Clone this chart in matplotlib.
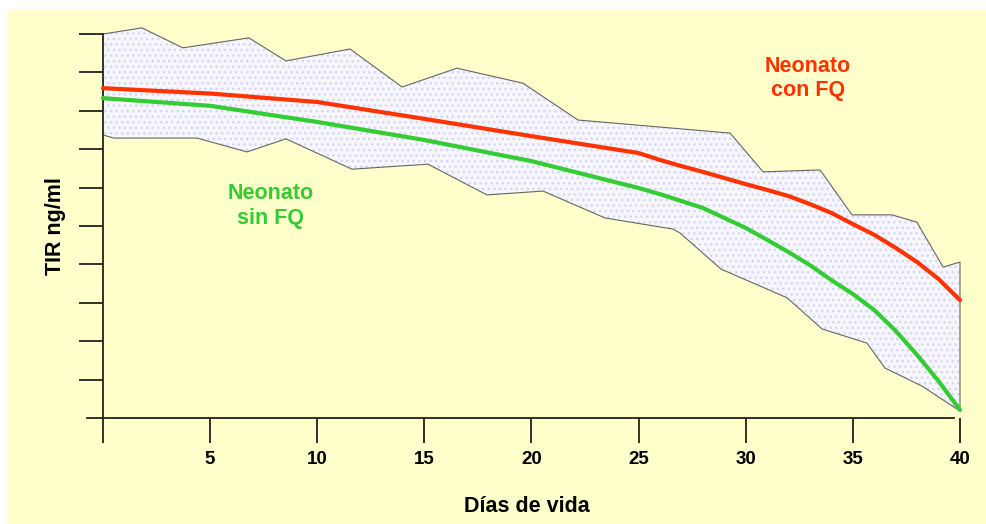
import numpy as np
import matplotlib
matplotlib.use("Agg")
import matplotlib.pyplot as plt
from matplotlib.patches import Rectangle

plt.rcParams['font.family'] = ['Liberation Sans', 'DejaVu Sans']
plt.rcParams['hatch.linewidth'] = 1.0

# data (day, TIR)
days_line = [0, 5, 10, 15, 20, 25, 26, 27, 28, 29, 30, 31, 32, 33, 34, 35, 36, 37, 38, 39, 40]
tir_con_fq = [8.59, 8.45, 8.23, 7.79, 7.34, 6.90, 6.72, 6.56, 6.41, 6.25, 6.09, 5.94, 5.78,
              5.57, 5.34, 5.05, 4.77, 4.43, 4.06, 3.62, 3.07]
tir_sin_fq = [8.33, 8.13, 7.71, 7.24, 6.69, 5.99, 5.83, 5.65, 5.47, 5.21, 4.95, 4.64, 4.32,
              3.98, 3.59, 3.23, 2.81, 2.27, 1.64, 0.96, 0.21]

upper_days = [0, 1.82, 3.73, 6.81, 8.54, 11.53, 13.96, 16.52, 19.60, 22.17, 29.27, 30.81,
              33.47, 34.96, 36.83, 37.99, 39.21, 40]
upper_tir = [10.0, 10.16, 9.64, 9.90, 9.30, 9.61, 8.62, 9.11, 8.72, 7.76, 7.42, 6.41,
             6.46, 5.29, 5.29, 5.10, 3.93, 4.06]
lower_days = [0, 0.51, 4.39, 6.72, 8.54, 11.62, 15.17, 17.92, 20.54, 23.43, 26.60, 26.93,
              28.84, 31.93, 33.56, 35.66, 36.50, 38.23, 40]
lower_tir = [7.37, 7.29, 7.29, 6.93, 7.27, 6.48, 6.61, 5.81, 5.91, 5.21, 4.92, 4.82,
             3.88, 3.13, 2.32, 1.95, 1.30, 0.83, 0.18]

xticks = [0, 5, 10, 15, 20, 25, 30, 35, 40]
xticklabels = ['', '5', '10', '15', '20', '25', '30', '35', '40']

fig = plt.figure(figsize=(9.87, 5.24), dpi=100)
fig.patch.set_facecolor('white')
fig.patches.append(Rectangle((7 / 987, 0), 1 - 7 / 987, 514 / 524, transform=fig.transFigure,
                             facecolor='#FFFFCC', edgecolor='none', zorder=-10))

ax = fig.add_axes([86.9 / 987, 106 / 524, 883.8 / 987, 395.5 / 524])
ax.patch.set_alpha(0)

# band
bx = list(upper_days) + list(lower_days[::-1])
by = list(upper_tir) + list(lower_tir[::-1])
ax.fill(bx, by, facecolor='#F6F6FC', edgecolor='#D4D4F6', hatch='...', linewidth=0, zorder=1)
ax.plot(upper_days + [40], upper_tir + [lower_tir[-1]], color='#666666', lw=0.8, zorder=2)
ax.plot(lower_days, lower_tir, color='#666666', lw=0.8, zorder=2)

ax.plot(days_line, tir_con_fq, color='#FF3300', lw=3, solid_capstyle='round', zorder=3)
ax.plot(days_line, tir_sin_fq, color='#33CC33', lw=3, solid_capstyle='round', zorder=3)

ax.text(32.9, 8.84, 'Neonato\ncon FQ', color='#FF3300', fontsize=15.5, fontweight='bold',
        ha='center', va='center', linespacing=1.2)
ax.text(7.84, 5.52, 'Neonato\nsin FQ', color='#33CC33', fontsize=15.5, fontweight='bold',
        ha='center', va='center', linespacing=1.2)

ax.set_xlim(-0.75, 40.5)
ax.set_ylim(0, 10.3)

for s in ['top', 'right']:
    ax.spines[s].set_visible(False)
ax.spines['left'].set_position(('data', 0))
ax.spines['left'].set_bounds(0, 10)
ax.spines['bottom'].set_bounds(-0.75, 39.7)
for s in ['left', 'bottom']:
    ax.spines[s].set_color('#222222')
    ax.spines[s].set_linewidth(1.3)

ax.set_xticks(xticks)
ax.set_xticklabels(xticklabels, fontsize=13.5, fontweight='bold')
ax.set_yticks(range(1, 11))
ax.set_yticklabels([])
ax.tick_params(axis='x', direction='out', length=18, width=1.3, color='#222222', pad=6)
ax.tick_params(axis='y', direction='out', length=17, width=1.3, color='#222222')

fig.text(527 / 987, 1 - 506 / 524, 'Días de vida', fontsize=15.5, fontweight='bold',
         ha='center', va='center')
fig.text(55 / 987, 1 - 226 / 524, 'TIR ng/ml', fontsize=15.5, fontweight='bold',
         ha='center', va='center', rotation=90)

fig.savefig('out.png', dpi=100, facecolor=fig.get_facecolor())
